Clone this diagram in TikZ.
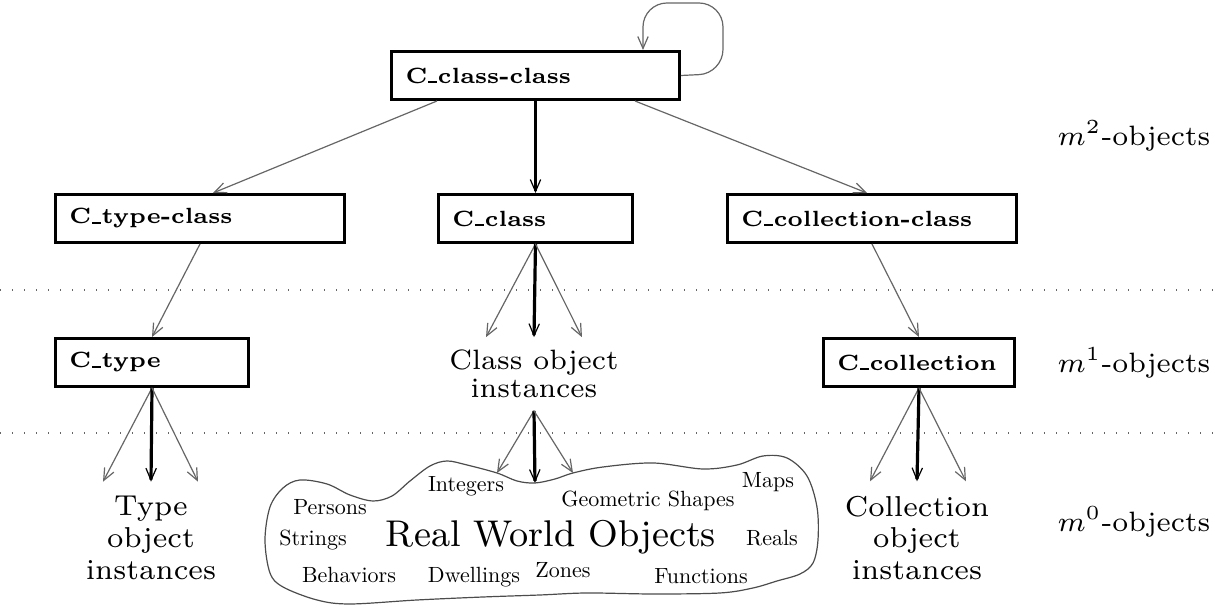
\documentclass[tikz,border=0pt]{standalone}
\usetikzlibrary{arrows.meta,calc}
% short low bar used in the class names
\newcommand\lowbar{\kern0.2pt\rule{2.2pt}{0.5pt}\kern0.25pt}
% small words inside the cloud, set in the 10pt design and scaled down
\newcommand\cloudtext[1]{\scalebox{0.55}{\fontsize{10}{12}\selectfont #1}}
\begin{document}
\begin{tikzpicture}[x=0.25pt,y=-0.25pt,
  cbox/.style={draw, line width=0.75pt, minimum height=12pt, inner xsep=3.5pt,
    inner ysep=0pt, align=left, anchor=north west,
    font=\fontsize{5.5}{7}\selectfont\bfseries},
  instlabel/.style={align=center, inner xsep=0pt, inner ysep=3.5pt,
    font=\fontsize{7.2}{7.9}\selectfont},
  cloudword/.style={anchor=base, inner sep=0pt},
  levellabel/.style={inner sep=0pt, font=\fontsize{7}{8}\selectfont},
  thinarrow/.style={draw=black!60, line width=0.3pt,
    -{Straight Barb[length=3pt,width=2.6pt]}},
  thickarrow/.style={draw=black, line width=0.8pt,
    -{Straight Barb[length=3pt,width=2.6pt,line width=0.3pt]}},
  sepline/.style={draw=black!60, line width=0.35pt, dash pattern=on 0.3pt off 2.7pt},
  cloudline/.style={draw=black!70, line width=0.3pt}]

\useasboundingbox (0,0) rectangle (1215,608);

% level separators
\draw[sepline] (0,290) -- (1215,290);
\draw[sepline] (0,433) -- (1215,433);

% class boxes
\node[cbox, text width=65pt]    (cc)   at (390,50)  {C\lowbar class-class};
\node[cbox, text width=65.25pt] (ctc)  at (54,193)  {C\lowbar type-class};
\node[cbox, text width=41.5pt]  (ccl)  at (437,193) {C\lowbar class};
\node[cbox, text width=65.25pt] (ccc)  at (726,193) {C\lowbar collection-class};
\node[cbox, text width=41.25pt] (ct)   at (54,337)  {C\lowbar type};
\node[cbox, text width=40.75pt] (ccol) at (822,337) {C\lowbar collection};

% instance labels
\node[align=center, inner sep=0pt, minimum height=18pt,
  font=\fontsize{7}{6.9}\selectfont] (coi) at (534,374) {Class object\\instances};
\node[instlabel] (toi) at (151,538) {Type\\object\\instances};
\node[instlabel] (kol) at (917,538) {Collection\\object\\instances};

% level labels
\node[levellabel] (m2) at (1134,136) {$m^2$-objects};
\node[levellabel] (m1) at (1134,363) {$m^1$-objects};
\node[levellabel] (m0) at (1134,522) {$m^0$-objects};

% the cloud of real world objects
\draw[cloudline] plot[smooth cycle, tension=0.55] coordinates {
  (265,540) (270,507) (283,488) (300,480) (327,484) (350,495) (373,501)
  (392,496) (410,481) (430,466) (447,461) (467,465) (497,473) (517,481)
  (535,483) (555,479) (573,473) (603,467) (653,463) (703,469) (737,465)
  (763,456) (787,458) (807,476) (817,507) (818,540) (813,563) (800,574)
  (777,581) (753,588) (720,593) (653,594) (587,593) (540,595) (483,597)
  (417,600) (350,604) (317,600) (283,587) (270,573)};
\coordinate (cloudL) at (497,473);
\coordinate (cloudM) at (535,483);
\coordinate (cloudR) at (573,473);

\node[anchor=base, inner sep=0pt, font=\fontsize{9.3}{11}\selectfont] (rwo) at (551,547) {Real World Objects};
\node[cloudword] (w1)  at (466,492) {\cloudtext{Integers}};
\node[cloudword] (w2)  at (330,515) {\cloudtext{Persons}};
\node[cloudword] (w3)  at (313,546) {\cloudtext{Strings}};
\node[cloudword] (w4)  at (349,583) {\cloudtext{Behaviors}};
\node[cloudword] (w5)  at (474,583) {\cloudtext{Dwellings}};
\node[cloudword] (w6)  at (563,578) {\cloudtext{Zones}};
\node[cloudword] (w7)  at (648,507) {\cloudtext{Geometric Shapes}};
\node[cloudword] (w8)  at (768,488) {\cloudtext{Maps}};
\node[cloudword] (w9)  at (772,546) {\cloudtext{Reals}};
\node[cloudword] (w10) at (701,584) {\cloudtext{Functions}};

% self loop on C_class-class
\draw[thinarrow, rounded corners=6pt] (cc.east) -- (723,73.5) -- (723,3) -- (643,3)
  -- ($(cc.north west)+(253,0)$);

% m2 -> m1 level
\draw[thinarrow] ($(cc.south west)+(47,0)$) -- ($(ctc.north west)+(159,0)$);
\draw[thickarrow] (cc.south) -- (ccl.north);
\draw[thinarrow] ($(cc.south east)+(-46,0)$) -- ($(ccc.north west)+(141,0)$);

% m1 boxes
\draw[thinarrow] (ctc.south) -- (ct.north);
\draw[thinarrow] (ccc.south) -- (ccol.north);
\draw[thinarrow] (ccl.south) -- ($(coi.north)+(-48,0)$);
\draw[thickarrow] (ccl.south) -- (coi.north);
\draw[thinarrow] (ccl.south) -- ($(coi.north)+(48,0)$);

% m0 instances
\draw[thinarrow] (ct.south) -- ($(toi.north)+(-48,0)$);
\draw[thickarrow] (ct.south) -- (toi.north);
\draw[thinarrow] (ct.south) -- ($(toi.north)+(47,0)$);

\draw[thinarrow] (ccol.south) -- ($(kol.north)+(-47,0)$);
\draw[thickarrow] (ccol.south) -- (kol.north);
\draw[thinarrow] (ccol.south) -- ($(kol.north)+(49,0)$);

\draw[thinarrow] (coi.south) -- (cloudL);
\draw[thickarrow] (coi.south) -- (cloudM);
\draw[thinarrow] (coi.south) -- (cloudR);
\end{tikzpicture}
\end{document}
